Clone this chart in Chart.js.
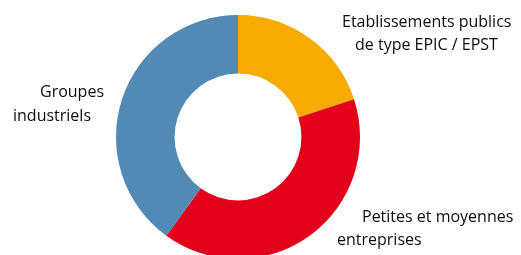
<!DOCTYPE html>
<html>
<head>
<meta charset="utf-8">
<script src="https://cdn.jsdelivr.net/npm/chart.js@4"></script>
<style>
  html, body { margin: 0; padding: 0; background: #fff; overflow: hidden; }
  #wrap { position: relative; width: 521px; height: 263px; }
</style>
</head>
<body>
<div id="wrap"><canvas id="chart"></canvas></div>
<script>
// parts of the ring, clockwise from the top
var categories = [
  "Etablissements publics de type EPIC / EPST",
  "Petites et moyennes entreprises",
  "Groupes industriels"
];
var shares = [20, 40, 40];
var colors = ["#f5ab00", "#e2001a", "#5289b5"];

// text lines for each label, as broken in the picture
var labelLines = [
  ["Etablissements publics", "de type EPIC / EPST"],
  ["Petites et moyennes", "entreprises"],
  ["Groupes", "industriels"]
];

// where each line starts (left x, baseline y)
var labelPos = [
  [[342, 27], [355, 50]],
  [[362, 222], [337, 245]],
  [[40, 97], [13, 121]]
];

var sideLabels = {
  id: "sideLabels",
  afterDraw: function(chart) {
    var ctx = chart.ctx;
    ctx.save();
    ctx.font = "16px 'Open Sans'";
    ctx.fillStyle = "#0d0d0d";
    ctx.textAlign = "left";
    ctx.textBaseline = "alphabetic";
    for (var i = 0; i < labelLines.length; i++) {
      for (var j = 0; j < labelLines[i].length; j++) {
        ctx.fillText(labelLines[i][j], labelPos[i][j][0], labelPos[i][j][1]);
      }
    }
    ctx.restore();
  }
};

new Chart(document.getElementById("chart"), {
  type: "doughnut",
  data: {
    labels: categories,
    datasets: [{
      data: shares,
      backgroundColor: colors,
      borderWidth: 0
    }]
  },
  options: {
    responsive: true,
    maintainAspectRatio: false,
    animation: false,
    cutout: "52%",
    layout: { padding: { left: 116, right: 161, top: 15, bottom: 4 } },
    plugins: {
      legend: { display: false },
      tooltip: { enabled: false }
    }
  },
  plugins: [sideLabels]
});
</script>
</body>
</html>
